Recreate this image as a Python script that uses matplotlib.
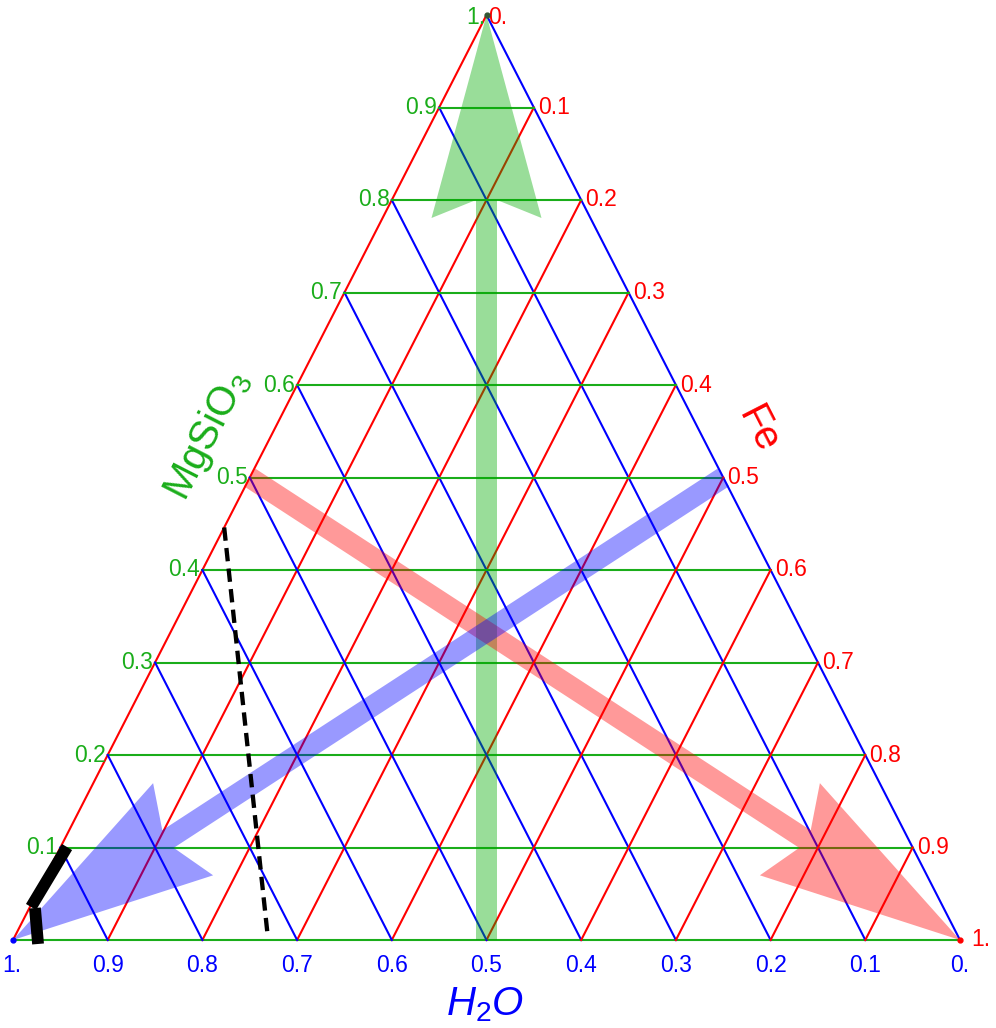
import numpy as np
import matplotlib
matplotlib.use('Agg')
import matplotlib.pyplot as plt
from matplotlib.patches import Polygon

plt.rcParams['font.family'] = 'Liberation Sans'
plt.rcParams['mathtext.fontset'] = 'custom'
plt.rcParams['mathtext.rm'] = 'Liberation Sans'
plt.rcParams['mathtext.it'] = 'Liberation Sans:italic'

# grid values / tick labels
ticks = [0.1, 0.2, 0.3, 0.4, 0.5, 0.6, 0.7, 0.8, 0.9]
tick_labels = ['0.1', '0.2', '0.3', '0.4', '0.5', '0.6', '0.7', '0.8', '0.9']

# points given as (MgSiO3, Fe); H2O = 1 - MgSiO3 - Fe
green_arrow = [(0.0, 0.5), (1.0, 0.0)]
red_arrow = [(0.5, 0.0), (0.0, 1.0)]
blue_arrow = [(0.5, 0.5), (0.0, 0.0)]
dashed_line = [(0.446, 0.0), (0.009, 0.264)]
thick_line_a = [(0.1005, 0.0068), (0.0357, 0.0012)]
thick_line_b = [(0.0346, 0.0059), (-0.0043, 0.0286)]

GREEN = (0.1, 0.68, 0.1)
RED = (1.0, 0.0, 0.0)
BLUE = (0.0, 0.0, 1.0)
FS = 16.5


def tern(m, f):
    return f + m / 2.0, m


fig = plt.figure(figsize=(9.96, 10.28), dpi=100)
ax = fig.add_axes([0, 0, 1, 1])
ax.set_xlim(-13 / 947, 983 / 947)
ax.set_ylim(-88 / 925, 940 / 925)
ax.axis('off')

lw = 1.5
# edges
ax.plot([0, 1], [0, 0], color=GREEN, lw=lw, zorder=1)
ax.plot([0, 0.5], [0, 1], color=RED, lw=lw, zorder=1)
ax.plot([1, 0.5], [0, 1], color=BLUE, lw=lw, zorder=1)

for k, lab in zip(ticks, tick_labels):
    # MgSiO3 = k (horizontal green)
    x0, y0 = tern(k, 0)
    x1, y1 = tern(k, 1 - k)
    ax.plot([x0, x1], [y0, y1], color=GREEN, lw=lw, zorder=1)
    ax.annotate(lab, (x0, y0), xytext=(-1.5, 0), textcoords='offset points',
                ha='right', va='center', color=GREEN, fontsize=FS)
    # Fe = k (red)
    x0, y0 = tern(0, k)
    x1, y1 = tern(1 - k, k)
    ax.plot([x0, x1], [y0, y1], color=RED, lw=lw, zorder=1)
    ax.annotate(lab, (x1, y1), xytext=(3, 0), textcoords='offset points',
                ha='left', va='center', color=RED, fontsize=FS)
    # H2O = k (blue)
    x0, y0 = tern(0, 1 - k)
    x1, y1 = tern(1 - k, 0)
    ax.plot([x0, x1], [y0, y1], color=BLUE, lw=lw, zorder=1)
    ax.annotate(lab, (x0, y0), xytext=(0, -18.5), textcoords='offset points',
                ha='center', va='center', color=BLUE, fontsize=FS)

# corner labels
ax.annotate('1.', tern(0, 0), xytext=(-1, -18.5), textcoords='offset points',
            ha='center', va='center', color=BLUE, fontsize=FS)
ax.annotate('0.', tern(0, 1), xytext=(0, -18.5), textcoords='offset points',
            ha='center', va='center', color=BLUE, fontsize=FS)
ax.annotate('1.', tern(0, 1), xytext=(8, 0), textcoords='offset points',
            ha='left', va='center', color=RED, fontsize=FS)
ax.annotate('1.', tern(1, 0), xytext=(-1, -2), textcoords='offset points',
            ha='right', va='center', color=GREEN, fontsize=FS)
ax.annotate('0.', tern(1, 0), xytext=(1, -2), textcoords='offset points',
            ha='left', va='center', color=RED, fontsize=FS)

ax.plot(*tern(0, 0), 'o', color=BLUE, ms=3.5, zorder=4)
ax.plot(*tern(0, 1), 'o', color=RED, ms=3.5, zorder=4)
ax.plot(*tern(1, 0), 'o', color='#335533', ms=3.5, zorder=4)


def arrow_patch(start, end, color, shaft_w=21, head_len=203, head_w=110, notch=18):
    p0 = ax.transData.transform(tern(*start))
    p1 = ax.transData.transform(tern(*end))
    d = p1 - p0
    u = d / np.hypot(*d)
    n = np.array([-u[1], u[0]])
    base = p1 - u * head_len
    junc = p1 - u * (head_len - notch)
    pts = [p0 + n * shaft_w / 2, junc + n * shaft_w / 2, base + n * head_w / 2, p1,
           base - n * head_w / 2, junc - n * shaft_w / 2, p0 - n * shaft_w / 2]
    pts = ax.transData.inverted().transform(np.array(pts))
    return Polygon(pts, closed=True, facecolor=color, edgecolor='none', alpha=0.4, zorder=2)


ax.add_patch(arrow_patch(*green_arrow, (0.0, 0.667, 0.0)))
ax.add_patch(arrow_patch(*red_arrow, RED))
ax.add_patch(arrow_patch(*blue_arrow, BLUE))

# dashed line
xy = np.array([tern(*p) for p in dashed_line])
ax.plot(xy[:, 0], xy[:, 1], color='black', lw=3.1, dashes=(3.1, 1.7), zorder=3)
for seg in (thick_line_a, thick_line_b):
    xy = np.array([tern(*p) for p in seg])
    ax.plot(xy[:, 0], xy[:, 1], color='black', lw=8.5, solid_capstyle='butt', zorder=3)

# axis titles
ang = np.degrees(np.arctan2(925, 473.5))
ax.text(*ax.transData.inverted().transform((207, 1028 - 435)), r'$\mathrm{MgSiO}_3$',
        color=GREEN, fontsize=29, rotation=ang, ha='center', va='center',
        rotation_mode='anchor')
ax.text(*ax.transData.inverted().transform((758, 1028 - 430)), 'Fe',
        color=RED, fontsize=29, rotation=-ang, ha='center', va='center',
        rotation_mode='anchor')
ax.text(*ax.transData.inverted().transform((485, 1028 - 1015)), r'$H_2O$',
        color=BLUE, fontsize=29, ha='center', va='baseline')

fig.savefig('out.png', dpi=100)
